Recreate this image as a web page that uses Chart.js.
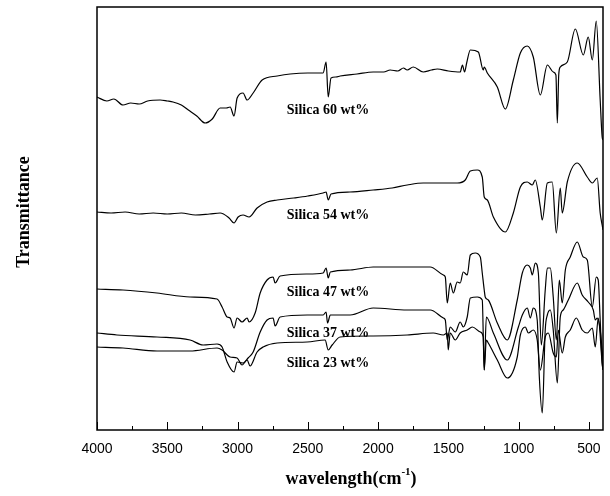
<!DOCTYPE html>
<html>
<head>
<meta charset="utf-8">
<script src="https://cdn.jsdelivr.net/npm/chart.js@4/dist/chart.umd.min.js"></script>
<style>
  html, body { margin: 0; padding: 0; background: #fff; }
  #wrap { width: 610px; height: 496px; }
</style>
</head>
<body>
<div id="wrap"><canvas id="ftir"></canvas></div>
<script>
// x axis tick labels (wavenumber, cm-1)
const xTicks = [4000, 3500, 3000, 2500, 2000, 1500, 1000, 500];

// curve names, in order from top to bottom
const seriesNames = ['Silica 60 wt%', 'Silica 54 wt%', 'Silica 47 wt%', 'Silica 37 wt%', 'Silica 23 wt%'];
// where the name sits (wavenumber, transmittance in the chart's own units)
const labelWn = 2650;
const labelT = [320, 215, 138, 97, 67];

// Silica 60 wt%
const wn60 = [4000, 3930, 3880, 3815, 3760, 3700, 3640, 3551, 3500, 3459, 3400, 3350, 3290, 3231, 3180, 3124, 3080, 3053, 3025, 3003,
  2961, 2932, 2889, 2825, 2718, 2626, 2500, 2391, 2370, 2355, 2335, 2300, 2270, 2150, 2035, 1960, 1914, 1860, 1820, 1793,
  1750, 1679, 1620, 1579, 1500, 1416, 1400, 1385, 1370, 1344, 1287, 1252, 1245, 1223, 1152, 1095, 1038, 988, 939, 896,
  846, 796, 754, 735, 725, 715, 704, 654, 597, 540, 505, 476, 448, 420, 406, 400];
const tr60 = [333, 329, 331, 325, 327, 326, 329, 330, 329, 328, 325, 320, 314, 307, 311, 322, 322, 323, 314, 332,
  337, 330, 337, 350, 354, 356, 357, 357, 368, 333, 352, 353, 354, 356, 358, 358, 360, 359, 362, 360,
  363, 358, 360, 361, 359, 358, 365, 358, 367, 380, 378, 360, 363, 357, 343, 321, 350, 377, 384, 373,
  335, 365, 358, 355, 307, 355, 363, 368, 401, 375, 393, 370, 409, 330, 293, 290];

// Silica 54 wt%
const wn54 = [4000, 3900, 3800, 3700, 3600, 3500, 3400, 3300, 3200, 3124, 3060, 3025, 2996, 2961, 2918, 2861, 2790, 2718, 2600, 2500,
  2391, 2370, 2355, 2335, 2200, 2035, 1900, 1793, 1679, 1558, 1437, 1380, 1344, 1294, 1259, 1245, 1223, 1180, 1095, 1038,
  988, 939, 903, 882, 846, 832, 796, 761, 732, 704, 690, 654, 583, 512, 476, 441, 420, 406, 400];
const tr54 = [218, 217, 218, 216, 217, 216, 217, 215, 216, 217, 212, 207, 213, 215, 213, 222, 228, 230, 232, 234,
  237, 238, 230, 236, 238, 240, 242, 245, 247, 247, 247, 250, 259, 260, 253, 233, 230, 213, 198, 217,
  243, 248, 245, 250, 223, 210, 247, 248, 197, 242, 217, 248, 267, 253, 247, 252, 217, 205, 200];

// Silica 47 wt%
const wn47 = [4000, 3815, 3573, 3338, 3146, 3110, 3074, 3053, 3025, 3003, 2968, 2932, 2918, 2875, 2839, 2790, 2747, 2733, 2697, 2505,
  2391, 2370, 2355, 2340, 2199, 2035, 1793, 1629, 1536, 1522, 1508, 1487, 1465, 1437, 1416, 1394, 1366, 1344, 1309, 1273,
  1259, 1245, 1238, 1216, 1152, 1081, 1010, 974, 939, 917, 903, 882, 860, 839, 811, 796, 775, 754, 732, 711,
  690, 668, 633, 583, 540, 512, 476, 448, 434, 420, 406, 400];
const tr47 = [141, 140, 137, 133, 131, 123, 113, 112, 102, 112, 108, 112, 108, 117, 137, 150, 153, 147, 154, 156,
  157, 162, 152, 158, 160, 163, 163, 163, 155, 153, 127, 147, 137, 148, 147, 158, 155, 175, 177, 173,
  157, 140, 133, 130, 107, 90, 130, 157, 165, 162, 155, 167, 157, 85, 140, 162, 162, 133, 90, 150,
  127, 160, 173, 188, 173, 170, 123, 153, 150, 110, 67, 60];

// Silica 37 wt%
const wn37 = [4000, 3858, 3573, 3338, 3245, 3146, 3110, 3074, 3025, 3003, 2961, 2925, 2889, 2839, 2790, 2747, 2733, 2697, 2505, 2391,
  2370, 2360, 2340, 2199, 2035, 1793, 1629, 1536, 1522, 1508, 1487, 1451, 1416, 1394, 1366, 1344, 1294, 1259, 1245, 1230,
  1180, 1081, 1002, 974, 939, 917, 896, 868, 853, 832, 811, 796, 775, 754, 725, 704, 683, 647, 583, 548,
  505, 469, 455, 441, 420, 406, 400];
const tr37 = [97, 95, 93, 90, 85, 86, 83, 68, 58, 68, 67, 72, 78, 98, 110, 112, 104, 113, 115, 115,
  118, 107, 115, 115, 122, 120, 120, 112, 110, 90, 103, 98, 108, 103, 113, 132, 133, 130, 60, 113,
  97, 70, 103, 115, 122, 112, 122, 110, 53, 17, 100, 115, 120, 100, 47, 113, 120, 130, 147, 135,
  128, 120, 110, 112, 100, 80, 70];

// Silica 23 wt%
const wn23 = [4000, 3815, 3573, 3338, 3146, 3110, 3053, 3003, 2968, 2932, 2911, 2861, 2818, 2718, 2505, 2377, 2355, 2327, 2270, 2035,
  1793, 1608, 1536, 1508, 1501, 1487, 1451, 1416, 1366, 1330, 1273, 1252, 1245, 1230, 1216, 1152, 1081, 1010, 988, 953,
  931, 896, 868, 846, 811, 789, 754, 732, 718, 690, 668, 633, 590, 548, 512, 476, 455, 434, 406, 400];
const tr23 = [83, 82, 79, 79, 82, 80, 73, 72, 65, 70, 64, 78, 83, 87, 88, 90, 80, 85, 93, 94,
  95, 97, 95, 97, 80, 97, 90, 97, 100, 103, 98, 93, 60, 90, 87, 70, 52, 73, 95, 103,
  97, 100, 90, 60, 93, 97, 77, 73, 100, 77, 93, 100, 112, 100, 97, 102, 83, 112, 67, 60];

const allWn = [wn60, wn54, wn47, wn37, wn23];
const allTr = [tr60, tr54, tr47, tr37, tr23];

const datasets = seriesNames.map((name, i) => ({
    label: name,
    data: allWn[i].map((w, k) => ({ x: w, y: allTr[i][k] })),
    borderColor: '#000',
    borderWidth: 1.2,
    pointRadius: 0,
    fill: false,
    cubicInterpolationMode: 'monotone'
}));

const serif = '"Liberation Serif", "Times New Roman", serif';

// frame, inward ticks, curve names and axis titles
const extras = {
    id: 'extras',
    afterDraw(chart) {
        const { ctx, chartArea: a, scales: { x, y } } = chart;
        ctx.save();
        ctx.strokeStyle = '#000';
        ctx.lineWidth = 1.5;
        ctx.strokeRect(a.left, a.top, a.right - a.left, a.bottom - a.top);

        ctx.lineWidth = 1;
        for (let v = 500; v <= 4000; v += 250) {
            const px = Math.round(x.getPixelForValue(v)) + 0.5;
            const len = v % 500 === 0 ? 8 : 4;
            ctx.beginPath();
            ctx.moveTo(px, a.bottom);
            ctx.lineTo(px, a.bottom - len);
            ctx.stroke();
        }

        ctx.fillStyle = '#000';
        ctx.font = 'bold 14px ' + serif;
        ctx.textAlign = 'left';
        ctx.textBaseline = 'middle';
        seriesNames.forEach((n, i) => {
            ctx.fillText(n, x.getPixelForValue(labelWn), y.getPixelForValue(labelT[i]));
        });

        // x title with superscript
        ctx.textBaseline = 'alphabetic';
        const main = 'wavelength(cm';
        const sup = '-1';
        const close = ')';
        ctx.font = 'bold 18px ' + serif;
        const wMain = ctx.measureText(main).width;
        const wClose = ctx.measureText(close).width;
        ctx.font = 'bold 11px ' + serif;
        const wSup = ctx.measureText(sup).width;
        const total = wMain + wSup + wClose;
        let tx = 351 - total / 2;
        const ty = 484;
        ctx.font = 'bold 18px ' + serif;
        ctx.fillText(main, tx, ty);
        tx += wMain;
        ctx.font = 'bold 11px ' + serif;
        ctx.fillText(sup, tx, ty - 9);
        tx += wSup;
        ctx.font = 'bold 18px ' + serif;
        ctx.fillText(close, tx, ty);

        // y title
        ctx.translate(24, 212);
        ctx.rotate(-Math.PI / 2);
        ctx.textAlign = 'center';
        ctx.textBaseline = 'middle';
        ctx.fillText('Transmittance', 0, 0);
        ctx.restore();
    }
};

new Chart(document.getElementById('ftir'), {
    type: 'line',
    data: { datasets },
    options: {
        responsive: true,
        maintainAspectRatio: false,
        animation: false,
        layout: { padding: { left: 97, right: 7, top: 7, bottom: 0 } },
        plugins: { legend: { display: false }, tooltip: { enabled: false } },
        scales: {
            x: {
                type: 'linear',
                reverse: true,
                min: 400,
                max: 4000,
                afterBuildTicks: s => { s.ticks = xTicks.map(v => ({ value: v })); },
                afterFit: s => { s.height = 66; },
                grid: { display: false },
                border: { display: false },
                ticks: {
                    color: '#000',
                    padding: 3,
                    maxRotation: 0,
                    autoSkip: false,
                    callback: v => String(v),
                    font: { family: '"Liberation Sans", Arial, sans-serif', size: 14 }
                }
            },
            y: {
                display: false,
                min: 0,
                max: 423
            }
        }
    },
    plugins: [extras]
});
</script>
</body>
</html>
